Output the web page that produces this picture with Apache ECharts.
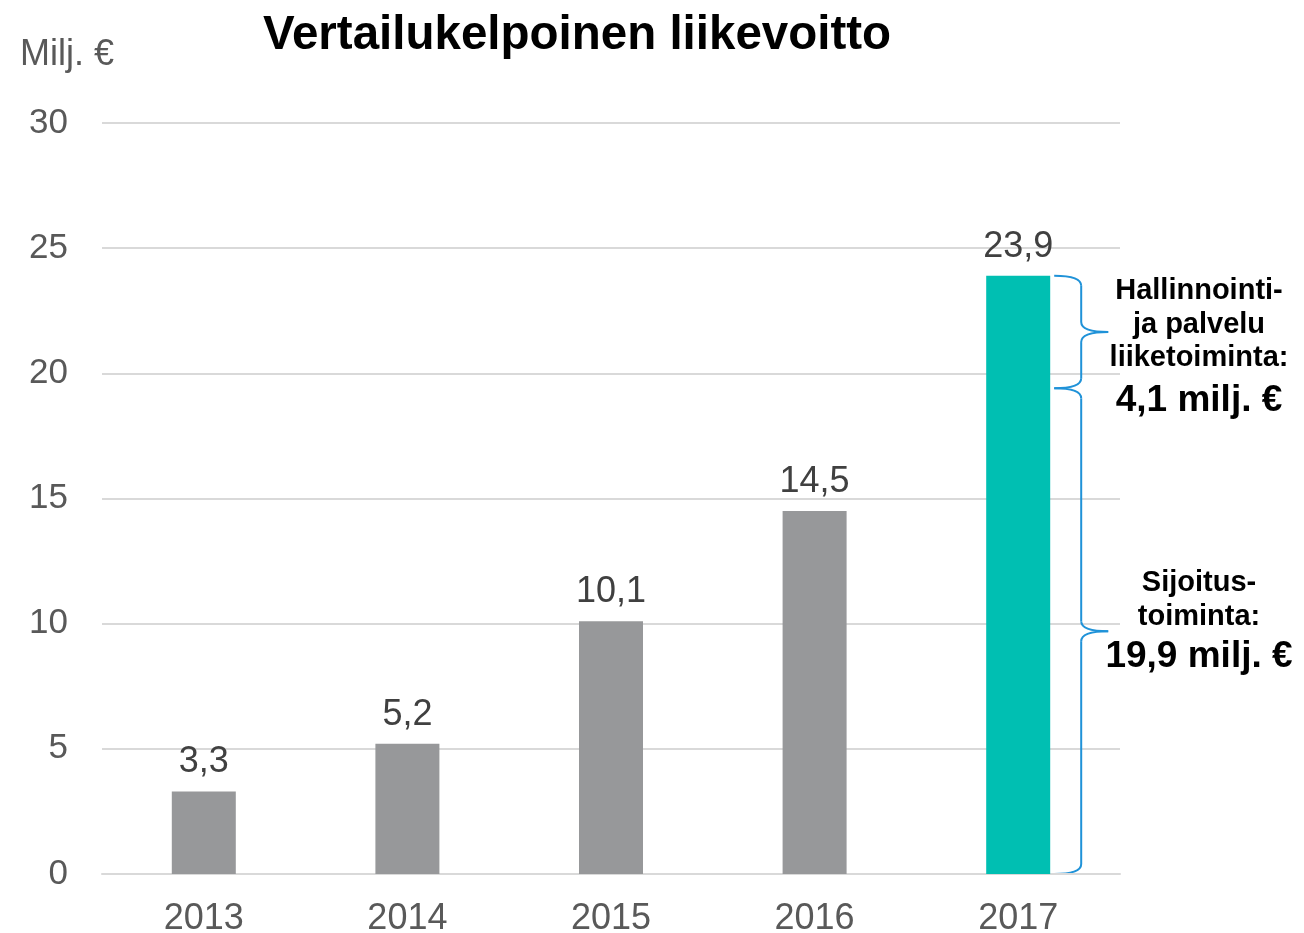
<!DOCTYPE html>
<html>
<head>
<meta charset="utf-8">
<script src="https://cdn.jsdelivr.net/npm/echarts@6/dist/echarts.min.js"></script>
<style>
html,body{margin:0;padding:0;background:#fff;}
#chart{width:1304px;height:933px;}
</style>
</head>
<body>
<div id="chart"></div>
<script>
const categories = ['2013', '2014', '2015', '2016', '2017'];
const values = [3.3, 5.2, 10.1, 14.5, 23.9];
const barColors = ['#97989a', '#97989a', '#97989a', '#97989a', '#00bfb2'];
const yTicks = [0, 5, 10, 15, 20, 25, 30];
const braceBreaks = [23.9, 19.4, 0];
const upperNote = ['Hallinnointi-', 'ja palvelu', 'liiketoiminta:'];
const upperAmount = '4,1 milj. €';
const lowerNote = ['Sijoitus-', 'toiminta:'];
const lowerAmount = '19,9 milj. €';
const titleText = 'Vertailukelpoinen liikevoitto';
const unitText = 'Milj. €';

const FONT = '"Liberation Sans", Arial, sans-serif';
const chart = echarts.init(document.getElementById('chart'));
const fmt = v => String(v).replace('.', ',');

chart.setOption({
  animation: false,
  backgroundColor: '#fff',
  title: {
    text: titleText,
    left: 572, top: 7, textAlign: 'center',
    textStyle: { fontFamily: FONT, fontSize: 47.5, fontWeight: 'bold', color: '#000' }
  },
  grid: { left: 102, right: 184, top: 123, bottom: 59, containLabel: false, outerBoundsMode: 'none' },
  xAxis: {
    type: 'category',
    data: categories,
    axisLine: { show: true, lineStyle: { color: '#d9d9d9', width: 2 } },
    axisTick: { show: false },
    axisLabel: { margin: 27, fontFamily: FONT, fontSize: 36, color: '#595959' }
  },
  yAxis: {
    type: 'value',
    min: yTicks[0], max: yTicks[yTicks.length - 1], interval: 5,
    axisLine: { show: false }, axisTick: { show: false },
    splitLine: { lineStyle: { color: '#d9d9d9', width: 2 } },
    axisLabel: { margin: 34, fontFamily: FONT, fontSize: 35, color: '#595959',
      formatter: v => fmt(v) }
  },
  series: [{
    type: 'bar',
    barWidth: 64,
    data: values.map((v, i) => ({ value: v, itemStyle: { color: barColors[i] } })),
    label: {
      show: true, position: 'top', distance: 11,
      fontFamily: FONT, fontSize: 36, color: '#404040',
      formatter: p => fmt(p.value)
    }
  }]
});

function drawAnnotations() {
  const lastIdx = categories.length - 1;
  const barPt = chart.convertToPixel({ gridIndex: 0 }, [lastIdx, values[lastIdx]]);
  const x0 = barPt[0] + 32 + 4;
  const xm = x0 + 27;
  const xt = xm + 27;
  const r = 10;
  const ys = braceBreaks.map(v => chart.convertToPixel({ gridIndex: 0 }, [lastIdx, v])[1]);
  const elements = [];
  const tips = [];
  const stroke = { stroke: '#1f92d8', lineWidth: 2, fill: null };
  const curve = (x1, y1, cx, cy, x2, y2) => ({ type: 'bezierCurve',
    shape: { x1: x1, y1: y1, cpx1: cx, cpy1: cy, x2: x2, y2: y2 }, style: Object.assign({}, stroke) });
  const line = (x1, y1, x2, y2) => ({ type: 'line',
    shape: { x1: x1, y1: y1, x2: x2, y2: y2 }, style: Object.assign({}, stroke) });
  for (let k = 0; k < ys.length - 1; k++) {
    const yTop = ys[k], yBot = ys[k + 1], yMid = (yTop + yBot) / 2;
    tips.push(yMid);
    elements.push(curve(x0, yTop, xm, yTop, xm, yTop + r));
    elements.push(line(xm, yTop + r, xm, yMid - r));
    elements.push(curve(xm, yMid - r, xm, yMid, xt, yMid));
    elements.push(curve(xt, yMid, xm, yMid, xm, yMid + r));
    elements.push(line(xm, yMid + r, xm, yBot - r));
    elements.push(curve(xm, yBot - r, xm, yBot, x0, yBot));
  }
  const cx = 1199;
  const small = { fontFamily: FONT, fontSize: 29, fontWeight: 'bold', fill: '#000', align: 'center', verticalAlign: 'middle' };
  const big = Object.assign({}, small, { fontSize: 37 });
  upperNote.forEach((t, i) => {
    elements.push({ type: 'text', x: cx, y: tips[0] - 41 + i * 33.5, style: Object.assign({ text: t }, small) });
  });
  elements.push({ type: 'text', x: cx, y: tips[0] + 69, style: Object.assign({ text: upperAmount }, big) });
  lowerNote.forEach((t, i) => {
    elements.push({ type: 'text', x: cx, y: tips[1] - 48 + i * 33.5, style: Object.assign({ text: t }, small) });
  });
  elements.push({ type: 'text', x: cx, y: tips[1] + 26, style: Object.assign({ text: lowerAmount }, big) });
  elements.push({ type: 'text', x: 20, y: 55, style: { text: unitText, fontFamily: FONT, fontSize: 36, fill: '#595959', align: 'left', verticalAlign: 'middle' } });
  chart.setOption({ graphic: { elements: elements } });
}
drawAnnotations();
</script>
</body>
</html>
